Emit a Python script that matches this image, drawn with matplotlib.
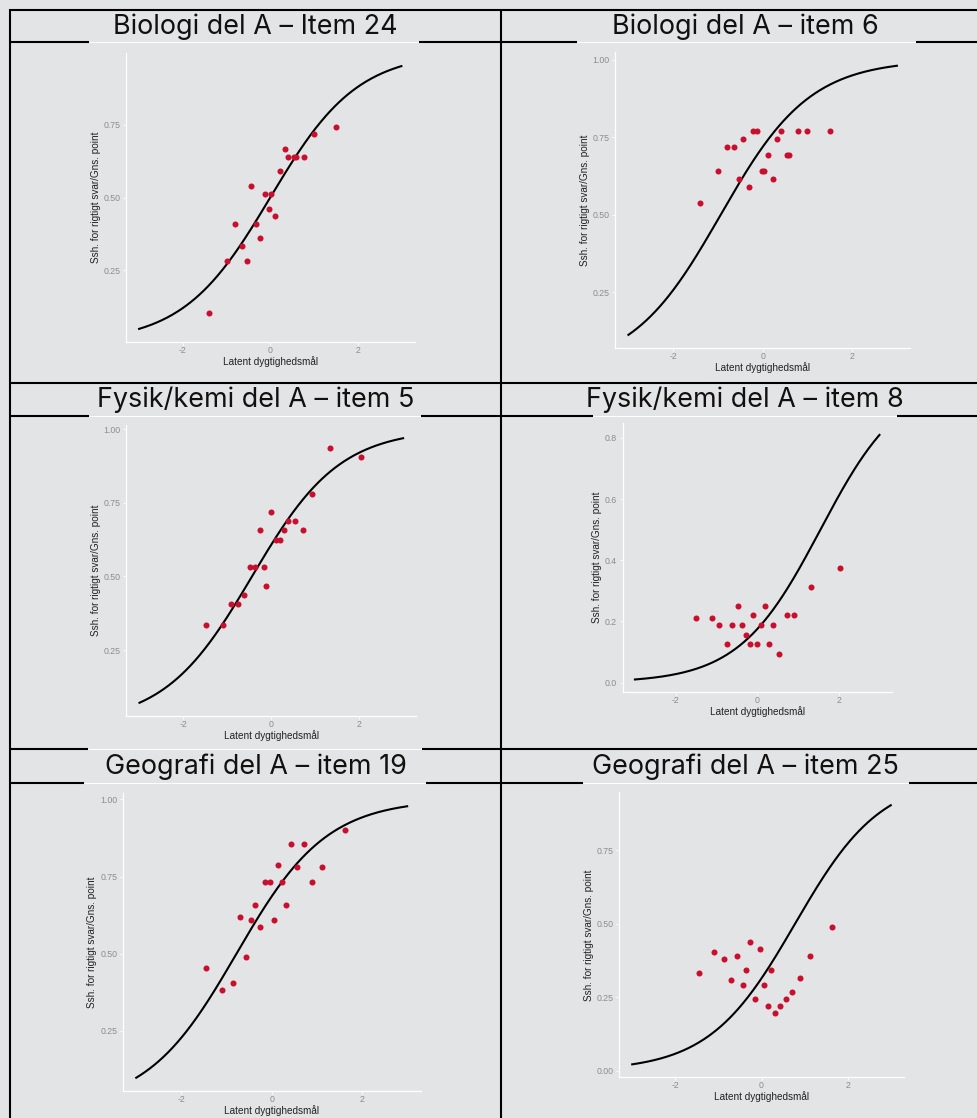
"""
Item characteristic curves (Rasch) with observed group means, laid out as a 3x2 table
"""
import numpy as np
import matplotlib.pyplot as plt
from matplotlib.lines import Line2D

W, H = 977, 1118
BG = "#E3E4E6"
POINT_RED = "#C8102E"

titles = [
    "Biologi del A – Item 24",
    "Biologi del A – item 6",
    "Fysik/kemi del A – item 5",
    "Fysik/kemi del A – item 8",
    "Geografi del A – item 19",
    "Geografi del A – item 25",
]

# item difficulties on the latent scale (discrimination fixed at 1)
difficulty = [0.0, -0.94, -0.44, 1.55, -0.78, 0.78]

# observed ability-group means: latent score and share correct / mean points
bio24_x = [-1.41, -0.99, -0.81, -0.65, -0.53, -0.435, -0.32, -0.23, -0.13, -0.02,
           0.015, 0.115, 0.23, 0.33, 0.40, 0.54, 0.60, 0.77, 1.00, 1.51]
bio24_y = [0.103, 0.282, 0.410, 0.333, 0.282, 0.538, 0.410, 0.359, 0.513, 0.462,
           0.513, 0.436, 0.590, 0.667, 0.641, 0.641, 0.641, 0.641, 0.718, 0.744]

bio6_x = [-1.405, -0.99, -0.80, -0.65, -0.53, -0.43, -0.31, -0.22, -0.13, -0.02,
          0.02, 0.12, 0.24, 0.33, 0.40, 0.535, 0.60, 0.78, 1.00, 1.51]
bio6_y = [0.537, 0.640, 0.718, 0.718, 0.615, 0.744, 0.589, 0.769, 0.769, 0.640,
          0.640, 0.692, 0.615, 0.744, 0.769, 0.692, 0.692, 0.769, 0.769, 0.769]

fyskem5_x = [-1.49, -1.10, -0.92, -0.75, -0.61, -0.48, -0.36, -0.265, -0.17, -0.11,
             0.0, 0.10, 0.19, 0.29, 0.39, 0.54, 0.72, 0.92, 1.33, 2.05]
fyskem5_y = [0.334, 0.334, 0.406, 0.406, 0.438, 0.532, 0.532, 0.656, 0.532, 0.469,
             0.719, 0.625, 0.625, 0.656, 0.688, 0.688, 0.656, 0.781, 0.937, 0.906]

fyskem8_x = [-1.50, -1.10, -0.94, -0.75, -0.61, -0.48, -0.38, -0.27, -0.17, -0.115,
             -0.01, 0.10, 0.18, 0.29, 0.39, 0.53, 0.72, 0.91, 1.33, 2.04]
fyskem8_y = [0.213, 0.213, 0.188, 0.126, 0.188, 0.251, 0.188, 0.157, 0.126, 0.220,
             0.126, 0.188, 0.251, 0.126, 0.188, 0.095, 0.220, 0.220, 0.313, 0.376]

geo19_x = [-1.456, -1.096, -0.86, -0.706, -0.58, -0.45, -0.36, -0.265, -0.154, -0.037,
           0.06, 0.14, 0.23, 0.316, 0.434, 0.55, 0.706, 0.89, 1.12, 1.62]
geo19_y = [0.452, 0.381, 0.405, 0.619, 0.488, 0.610, 0.659, 0.585, 0.732, 0.732,
           0.610, 0.786, 0.732, 0.659, 0.854, 0.780, 0.854, 0.732, 0.780, 0.902]

geo25_x = [-1.46, -1.095, -0.86, -0.71, -0.58, -0.44, -0.36, -0.26, -0.15, -0.03,
           0.06, 0.15, 0.23, 0.32, 0.44, 0.56, 0.71, 0.90, 1.13, 1.63]
geo25_y = [0.333, 0.405, 0.381, 0.309, 0.390, 0.292, 0.341, 0.439, 0.244, 0.414,
           0.292, 0.219, 0.341, 0.195, 0.219, 0.244, 0.268, 0.317, 0.390, 0.487]

points_x = [bio24_x, bio6_x, fyskem5_x, fyskem8_x, geo19_x, geo25_x]
points_y = [bio24_y, bio6_y, fyskem5_y, fyskem8_y, geo19_y, geo25_y]

y_ticks = [
    [0.25, 0.50, 0.75],
    [0.25, 0.50, 0.75, 1.00],
    [0.25, 0.50, 0.75, 1.00],
    [0.0, 0.2, 0.4, 0.6, 0.8],
    [0.25, 0.50, 0.75, 1.00],
    [0.00, 0.25, 0.50, 0.75],
]
x_ticks = [-2, 0, 2]

# panel boxes in pixels: left, top, right, bottom
panel_boxes = [
    (126, 53, 414.5, 342),
    (615, 52.3, 910.3, 348.3),
    (126.3, 425, 416.3, 716),
    (622.7, 422.7, 891.7, 691.7),
    (122.7, 792.7, 420.7, 1091.3),
    (619.3, 792.3, 903.7, 1077.3),
]
title_centres = [(255.5, 26.3), (745.3, 26.3), (255.5, 399.7), (745.3, 399.7),
                 (255.5, 766.5), (745.3, 766.5)]


def px_rect(left, top, right, bottom):
    return [left / W, 1 - bottom / H, (right - left) / W, (bottom - top) / H]


def hline(fig, y, x0, x1, color="black", lw=1.5):
    fig.add_artist(Line2D([x0 / W, x1 / W], [1 - y / H, 1 - y / H], color=color, lw=lw,
                          solid_capstyle="butt"))


def vline(fig, x, y0, y1, color="black", lw=1.5):
    fig.add_artist(Line2D([x / W, x / W], [1 - y0 / H, 1 - y1 / H], color=color, lw=lw,
                          solid_capstyle="butt"))


def rule_with_gaps(fig, y, gaps):
    """black table rule, interrupted where a plot image sits on top of it"""
    start = 10
    for g0, g1 in gaps:
        hline(fig, y, start, g0)
        hline(fig, y, g0, g1, color="white", lw=0.7)
        start = g1
    hline(fig, y, start, W + 5)


def icc(theta, b):
    return 1.0 / (1.0 + np.exp(-(theta - b)))


def draw_panel(ax, b, px, py, yticks):
    theta = np.linspace(-3, 3, 300)
    curve = icc(theta, b)
    ax.plot(theta, curve, color="black", lw=1.5, zorder=2)
    ax.scatter(px, py, s=19, color=POINT_RED, linewidths=0, zorder=3)

    lo = min(curve.min(), min(py))
    hi = max(curve.max(), max(py))
    pad = 0.05 * (hi - lo)
    ax.set_ylim(lo - pad, hi + pad)
    ax.set_xlim(-3.3, 3.3)

    ax.set_facecolor(BG)
    for side in ["top", "right"]:
        ax.spines[side].set_visible(False)
    for side in ["left", "bottom"]:
        ax.spines[side].set_color("white")
        ax.spines[side].set_linewidth(0.9)

    ax.set_xticks(x_ticks)
    ax.set_xticklabels([str(t) for t in x_ticks])
    ax.set_yticks(yticks)
    decimals = 1 if len(yticks) == 5 else 2
    ax.set_yticklabels([f"{t:.{decimals}f}" for t in yticks])
    ax.tick_params(colors="#8c8c8c", labelsize=6.3, length=2, width=0.6, pad=2)
    ax.tick_params(axis="x", pad=0.8)
    ax.tick_params(axis="both", color="white")

    ax.set_xlabel("Latent dygtighedsmål", fontsize=7.2, color="#222222", labelpad=0.8)
    ax.set_ylabel("Ssh. for rigtigt svar/Gns. point", fontsize=7.2, color="#222222", labelpad=2)


plt.rcParams["font.family"] = ["Liberation Sans", "DejaVu Sans"]
fig = plt.figure(figsize=(W / 100, H / 100), dpi=100, facecolor=BG)

for i in range(6):
    ax = fig.add_axes(px_rect(*panel_boxes[i]))
    draw_panel(ax, difficulty[i], points_x[i], points_y[i], y_ticks[i])
    cx, cy = title_centres[i]
    fig.text(cx / W, 1 - cy / H, titles[i], ha="center", va="center", fontsize=19.4,
             family=["Inter", "DejaVu Sans"], color="#111111")

# table grid
vline(fig, 10, 9.3, H + 5)
vline(fig, 501, 9.3, H + 5)
hline(fig, 10, 9.3, W + 5)
rule_with_gaps(fig, 42, [(89, 419), (577, 916)])
hline(fig, 383, 9.3, W + 5)
rule_with_gaps(fig, 416, [(89, 421), (593, 897)])
rule_with_gaps(fig, 749, [(88, 422)])
rule_with_gaps(fig, 783, [(84, 426), (583, 909)])

fig.savefig("out.png", dpi=100, facecolor=BG)
